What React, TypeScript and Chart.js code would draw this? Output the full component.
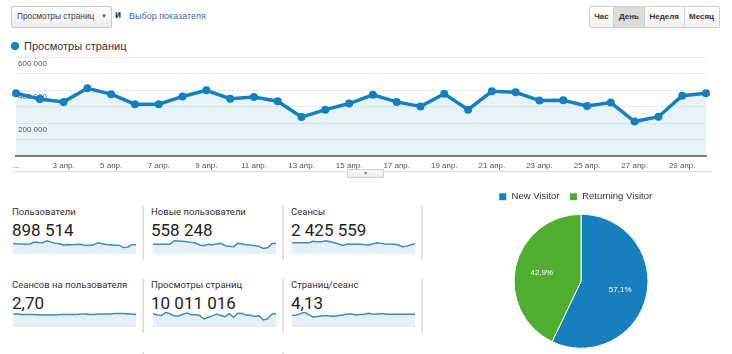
import React, { useEffect, useRef } from "react";
import { Chart, registerables } from "chart.js";
Chart.register(...registerables);

// ---------- DATA ----------
const days = [
  "1 апр.", "2 апр.", "3 апр.", "4 апр.", "5 апр.", "6 апр.", "7 апр.", "8 апр.", "9 апр.", "10 апр.",
  "11 апр.", "12 апр.", "13 апр.", "14 апр.", "15 апр.", "16 апр.", "17 апр.", "18 апр.", "19 апр.", "20 апр.",
  "21 апр.", "22 апр.", "23 апр.", "24 апр.", "25 апр.", "26 апр.", "27 апр.", "28 апр.", "29 апр.", "30 апр.",
];
const pageviews = [
  380000, 345000, 328000, 410000, 375000, 314000, 314000, 361000, 398000, 347000,
  357000, 332000, 236000, 281000, 318000, 371000, 328000, 300000, 377000, 281000,
  392000, 386000, 336000, 338000, 303000, 324000, 209000, 238000, 365000, 380000,
];
const yTicks = [0, 100000, 200000, 300000, 400000, 500000, 600000];
const yLabelTicks = [200000, 400000, 600000];

const sparkUsers = [
  31400, 30700, 30350, 29650, 30350, 34200, 33500, 32800, 37000, 34200,
  32100, 30700, 27900, 29300, 28600, 29300, 30000, 27200, 27900, 28600,
  32800, 30700, 29300, 28600, 27900, 27900, 23000, 23700, 28600, 28600,
];
const sparkNewUsers = [
  18600, 18600, 18600, 18600, 18600, 23550, 23100, 22650, 22200, 21300,
  20400, 17700, 16800, 18600, 18150, 19050, 19950, 16800, 15900, 15450,
  19950, 19050, 18150, 17700, 16800, 15900, 13200, 14100, 19500, 19950,
];
const sparkSessions = [
  84600, 84600, 84600, 84600, 84600, 91800, 90000, 90000, 95400, 90000,
  84600, 77400, 70200, 77400, 75600, 75600, 77400, 73800, 72000, 77400,
  84600, 81000, 77400, 75600, 75600, 73800, 63000, 64800, 73800, 77400,
];
const sparkSessionsPerUser = [
  2.71, 2.71, 2.70, 2.70, 2.70, 2.70, 2.69, 2.69, 2.69, 2.69,
  2.69, 2.70, 2.70, 2.70, 2.70, 2.70, 2.71, 2.71, 2.70, 2.70,
  2.71, 2.71, 2.71, 2.71, 2.72, 2.72, 2.72, 2.71, 2.71, 2.70,
];
const sparkPagesPerSession = [
  4.01, 4.09, 4.25, 4.41, 4.09, 3.85, 3.89, 3.97, 4.01, 3.97,
  3.93, 4.01, 4.09, 4.21, 4.21, 4.09, 4.13, 4.17, 4.29, 4.21,
  4.17, 4.25, 4.21, 4.17, 4.17, 4.17, 4.17, 4.17, 4.17, 4.17,
];

const metricLabels = [
  "Пользователи", "Новые пользователи", "Сеансы",
  "Сеансов на пользователя", "Просмотры страниц", "Страниц/сеанс",
  "Сред. длительность сеанса", "Показатель отказов",
];
const metricValues = ["898 514", "558 248", "2 425 559", "2,70", "10 011 016", "4,13", "", ""];

const pieLabels = ["New Visitor", "Returning Visitor"];
const pieValues = [57.1, 42.9];

const periodButtons = ["Час", "День", "Неделя", "Месяц"];

// ---------- STYLE ----------
const BLUE = "#1580bd";
const GREEN = "#4fae30";
const GA_FONT = "'Liberation Sans', Arial, sans-serif";
const MET_FONT = "Roboto, 'Liberation Sans', sans-serif";

const fmt = (v: number) => String(v).replace(/\B(?=(\d{3})+(?!\d))/g, " ");

function MainChart() {
  const ref = useRef<HTMLCanvasElement>(null);
  useEffect(() => {
    const chart = new Chart(ref.current!, {
      type: "line",
      data: {
        labels: days,
        datasets: [
          {
            data: pageviews,
            borderColor: BLUE,
            backgroundColor: "rgba(5,141,199,0.1)",
            fill: "origin",
            borderWidth: 3.5,
            pointRadius: 4,
            pointBackgroundColor: BLUE,
            pointBorderColor: BLUE,
            pointBorderWidth: 0,
            tension: 0,
            clip: false as any,
          },
        ],
      },
      options: {
        animation: false,
        responsive: false,
        events: [],
        layout: { padding: { left: 16, right: 26, top: 7, bottom: 0 } },
        plugins: { legend: { display: false }, tooltip: { enabled: false } },
        scales: {
          x: {
            grid: { display: false, drawTicks: false },
            border: { display: true, color: "#7d7d7d", width: 2 },
            ticks: {
              autoSkip: false,
              maxRotation: 0,
              padding: 5,
              color: "#555",
              font: { family: GA_FONT, size: 8 },
              callback: (_v: any, i: number) => (i === 0 ? "..." : i % 2 === 0 ? days[i] : ""),
            },
            afterFit: (s: any) => {
              s.height = 24;
            },
          },
          y: {
            min: yTicks[0],
            max: yTicks[yTicks.length - 1],
            grid: { color: "#ebebeb", drawTicks: false },
            border: { display: false },
            ticks: {
              stepSize: yTicks[1] - yTicks[0],
              mirror: true,
              padding: 2,
              labelOffset: 7,
              color: "#555",
              font: { family: GA_FONT, size: 8 },
              callback: (v: any) => (yLabelTicks.includes(Number(v)) ? fmt(Number(v)) : ""),
            },
            afterFit: (s: any) => {
              s.width = 0;
            },
          },
        },
      },
    });
    return () => chart.destroy();
  }, []);
  return (
    <canvas
      ref={ref}
      width={732}
      height={130}
      style={{ position: "absolute", left: 0, top: 50, width: 732, height: 130, display: "block" }}
    />
  );
}

function Spark({ data, range, left, top }: { data: number[]; range: number[]; left: number; top: number }) {
  const ref = useRef<HTMLCanvasElement>(null);
  useEffect(() => {
    const chart = new Chart(ref.current!, {
      type: "line",
      data: {
        labels: days,
        datasets: [
          {
            data,
            borderColor: "#3f8db6",
            borderWidth: 1.5,
            backgroundColor: "#e4f0f8",
            fill: "start",
            pointRadius: 0,
            tension: 0,
            clip: false as any,
          },
        ],
      },
      options: {
        animation: false,
        responsive: false,
        events: [],
        layout: { padding: 0 },
        plugins: { legend: { display: false }, tooltip: { enabled: false } },
        scales: {
          x: { display: false },
          y: { display: false, min: range[0], max: range[1] },
        },
      },
    });
    return () => chart.destroy();
  }, []);
  return (
    <canvas
      ref={ref}
      width={123}
      height={15}
      style={{ position: "absolute", left, top, width: 123, height: 15, display: "block" }}
    />
  );
}

const pieLabelPlugin = {
  id: "pieLabels",
  afterDatasetsDraw(chart: any) {
    const ctx = chart.ctx;
    const meta = chart.getDatasetMeta(0);
    const total = pieValues.reduce((a, b) => a + b, 0);
    meta.data.forEach((arc: any, i: number) => {
      const p = arc.getProps(["x", "y", "startAngle", "endAngle", "outerRadius"], true);
      const a = (p.startAngle + p.endAngle) / 2;
      const r = p.outerRadius * 0.6;
      const txt = ((pieValues[i] / total) * 100).toFixed(1).replace(".", ",") + "%";
      ctx.save();
      ctx.fillStyle = "#ffffff";
      ctx.font = `8px ${GA_FONT}`;
      ctx.textAlign = "center";
      ctx.textBaseline = "middle";
      ctx.fillText(txt, p.x + Math.cos(a) * r, p.y + Math.sin(a) * r);
      ctx.restore();
    });
  },
};

const shiftPiePlugin = {
  id: "shiftPie",
  afterLayout(chart: any) {
    chart.chartArea.left += 5.5;
    chart.chartArea.right += 5.5;
  },
};

function PieChart() {
  const ref = useRef<HTMLCanvasElement>(null);
  useEffect(() => {
    const chart = new Chart(ref.current!, {
      type: "pie",
      data: {
        labels: pieLabels,
        datasets: [
          {
            data: pieValues,
            backgroundColor: [BLUE, GREEN],
            borderColor: "#ffffff",
            borderWidth: 1,
            radius: 67,
          } as any,
        ],
      },
      options: {
        animation: false,
        responsive: false,
        events: [],
        layout: { padding: { left: 0, right: 0, top: 1, bottom: 3 } },
        plugins: {
          tooltip: { enabled: false },
          legend: {
            position: "top",
            labels: {
              boxWidth: 8,
              boxHeight: 8,
              padding: 10,
              color: "#333",
              font: { family: GA_FONT, size: 9.5 },
            },
          },
        },
      },
      plugins: [shiftPiePlugin, pieLabelPlugin],
    });
    return () => chart.destroy();
  }, []);
  return (
    <canvas
      ref={ref}
      width={231}
      height={173}
      style={{ position: "absolute", left: 460, top: 181, width: 231, height: 173, display: "block" }}
    />
  );
}

function Txt({
  left, top, size, children, color = "#333", bold = false, family = GA_FONT,
}: any) {
  return (
    <div
      style={{
        position: "absolute",
        left,
        top,
        fontSize: size,
        lineHeight: `${size}px`,
        color,
        fontWeight: bold ? "bold" : "normal",
        fontFamily: family,
        whiteSpace: "nowrap",
      }}
    >
      {children}
    </div>
  );
}

export default function App() {
  const colX = [12, 151, 291];
  const sepX = [142, 282, 421];
  const rowLabelC = [211.5, 284.5, 357.5];
  const rowValueC = [230, 303.3, 376];
  const rowSepTop = [206, 279, 352];
  const sparkLeft = [13, 153, 292];
  const sparkTop = [239, 312];
  const sparks = [
    { data: sparkUsers, range: [9800, 40600] },
    { data: sparkNewUsers, range: [5600, 25850] },
    { data: sparkSessions, range: [23600, 104600] },
    { data: sparkSessionsPerUser, range: [2.45, 2.75] },
    { data: pageviews, range: [21000, 423000] },
    { data: sparkPagesPerSession, range: [2.6, 4.45] },
  ];
  const btnX = [589, 614, 645, 684.5, 719.5];

  return (
    <div
      style={{
        position: "fixed",
        left: 0,
        top: 0,
        width: 732,
        height: 354,
        background: "#fff",
        overflow: "hidden",
        fontFamily: GA_FONT,
      }}
    >
      {/* dropdown */}
      <div
        style={{
          position: "absolute",
          left: 11,
          top: 6,
          width: 101,
          height: 22,
          boxSizing: "border-box",
          border: "1px solid #c9c9c9",
          borderRadius: 2,
          background: "linear-gradient(#fdfdfd, #eeeeee)",
        }}
      />
      <Txt left={17} top={12} size={8.3} color="#444">Просмотры страниц</Txt>
      <Txt left={101} top={12.5} size={6} color="#555">▼</Txt>
      <Txt left={115} top={10} size={10} bold color="#333">и</Txt>
      <Txt left={129} top={12} size={9} color="#3e6d9c">Выбор показателя</Txt>

      {/* period buttons */}
      {periodButtons.map((b, i) => (
        <div
          key={b}
          style={{
            position: "absolute",
            left: btnX[i],
            top: 6,
            width: btnX[i + 1] - btnX[i],
            height: 22,
            boxSizing: "border-box",
            border: "1px solid #cfcfcf",
            borderLeftWidth: i === 0 ? 1 : 0,
            borderRadius: i === 0 ? "2px 0 0 2px" : i === 3 ? "0 2px 2px 0" : 0,
            background: i === 1 ? "#dcdcdc" : "linear-gradient(#ffffff, #f1f1f1)",
            fontFamily: GA_FONT,
            fontSize: 8,
            fontWeight: "bold",
            color: "#333",
            textAlign: "center",
            lineHeight: "20px",
          }}
        >
          {b}
        </div>
      ))}

      {/* series legend */}
      <div
        style={{
          position: "absolute",
          left: 11,
          top: 42,
          width: 8,
          height: 8,
          borderRadius: 4,
          background: BLUE,
        }}
      />
      <Txt left={24} top={40.5} size={11} color="#333">Просмотры страниц</Txt>

      <MainChart />

      {/* chart bottom border + toggle */}
      <div style={{ position: "absolute", left: 12, top: 171, width: 700, height: 1, background: "#e3e3e3" }} />
      <div
        style={{
          position: "absolute",
          left: 347,
          top: 169,
          width: 37,
          height: 9,
          boxSizing: "border-box",
          border: "1px solid #d0d0d0",
          background: "linear-gradient(#fafafa, #ececec)",
          fontSize: 5,
          lineHeight: "7px",
          textAlign: "center",
          color: "#666",
        }}
      >
        ▼
      </div>

      {/* metrics */}
      {metricLabels.map((lab, i) => {
        const row = Math.floor(i / 3);
        const col = i % 3;
        return (
          <React.Fragment key={lab}>
            <Txt left={colX[col]} top={rowLabelC[row] - 5} size={9.5} color="#333" family={MET_FONT}>
              {lab}
            </Txt>
            {metricValues[i] && (
              <Txt left={colX[col]} top={rowValueC[row] - 8.5} size={17} color="#222" family={MET_FONT}>
                {metricValues[i]}
              </Txt>
            )}
          </React.Fragment>
        );
      })}
      {sparks.map((s, i) => (
        <Spark
          key={i}
          data={s.data}
          range={s.range}
          left={sparkLeft[i % 3]}
          top={sparkTop[Math.floor(i / 3)]}
        />
      ))}
      {rowSepTop.map((t, r) =>
        sepX.map((x, c) =>
          r === 2 && c === 2 ? null : (
            <div
              key={`${r}-${c}`}
              style={{ position: "absolute", left: x, top: t, width: 1.5, height: 54, background: "#e2e2e2" }}
            />
          )
        )
      )}

      <PieChart />
    </div>
  );
}
